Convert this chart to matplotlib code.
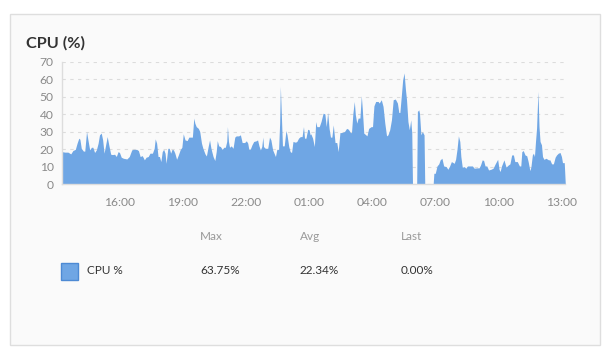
import matplotlib.pyplot as plt
import matplotlib.dates as mdates
from matplotlib.patches import Rectangle
import pandas as pd

plt.rcParams['font.family'] = ['Lato', 'DejaVu Sans']

# CPU samples (clock time, percent); the run crosses midnight
times = [
    "13:15", "13:23", "13:32", "13:40", "13:46", "13:53", "13:58", "14:03", "14:06", "14:10",
    "14:16", "14:20", "14:25", "14:29", "14:34", "14:39", "14:43", "14:48", "14:53", "14:58",
    "15:02", "15:07", "15:11", "15:15", "15:20", "15:24", "15:29", "15:34", "15:39", "15:45",
    "15:50", "15:55", "15:59", "16:04", "16:10", "16:20", "16:27", "16:34", "16:39", "16:48",
    "16:53", "16:58", "17:04", "17:10", "17:15", "17:21", "17:26", "17:33", "17:38", "17:41",
    "17:45", "17:49", "17:53", "17:57", "18:01", "18:05", "18:09", "18:12", "18:17", "18:21",
    "18:25", "18:29", "18:33", "18:37", "18:42", "18:47", "18:52", "18:57", "19:01", "19:06",
    "19:12", "19:17", "19:24", "19:27", "19:31", "19:34", "19:38", "19:44", "19:48", "19:53",
    "19:57", "20:03", "20:07", "20:12", "20:16", "20:20", "20:26", "20:31", "20:35", "20:38",
    "20:42", "20:47", "20:52", "20:57", "21:01", "21:05", "21:07", "21:10", "21:13", "21:18",
    "21:23", "21:28", "21:32", "21:39", "21:44", "21:49", "21:56", "22:01", "22:05", "22:08",
    "22:12", "22:17", "22:22", "22:29", "22:33", "22:37", "22:41", "22:45", "22:48", "22:50",
    "22:55", "23:02", "23:07", "23:11", "23:16", "23:24", "23:28", "23:33", "23:36", "23:38",
    "23:41", "23:44", "23:49", "23:54", "23:57", "00:02", "00:06", "00:10", "00:14", "00:21",
    "00:25", "00:30", "00:35", "00:40", "00:44", "00:47", "00:51", "00:56", "01:00", "01:03",
    "01:05", "01:10", "01:15", "01:19", "01:22", "01:29", "01:34", "01:40", "01:45", "01:49",
    "01:53", "01:57", "02:01", "02:05", "02:09", "02:14", "02:19", "02:23", "02:28", "02:33",
    "02:41", "02:47", "02:52", "02:58", "03:01", "03:05", "03:09", "03:12", "03:16", "03:20",
    "03:25", "03:29", "03:32", "03:36", "03:42", "03:45", "03:50", "03:57", "04:01", "04:05",
    "04:10", "04:17", "04:20", "04:26", "04:31", "04:36", "04:41", "04:45", "04:50", "04:55",
    "05:00", "05:06", "05:12", "05:16", "05:19", "05:23", "05:27", "05:31", "05:35", "05:38",
    "05:42", "05:46", "05:50", "05:53", "05:55", "06:07", "06:09", "06:13", "06:15", "06:19",
    "06:23", "06:28", "06:30", "06:54", "06:56", "07:00", "07:05", "07:10", "07:14", "07:19",
    "07:24", "07:31", "07:36", "07:41", "07:46", "07:51", "07:54", "07:58", "08:02", "08:06",
    "08:10", "08:13", "08:17", "08:23", "08:27", "08:32", "08:40", "08:46", "08:51", "08:59",
    "09:05", "09:09", "09:14", "09:18", "09:22", "09:27", "09:32", "09:39", "09:45", "09:51",
    "09:58", "10:02", "10:05", "10:09", "10:16", "10:22", "10:28", "10:33", "10:38", "10:43",
    "10:47", "10:54", "11:00", "11:04", "11:07", "11:11", "11:16", "11:21", "11:25", "11:30",
    "11:33", "11:37", "11:40", "11:43", "11:46", "11:49", "11:53", "11:56", "11:59", "12:03",
    "12:06", "12:10", "12:16", "12:23", "12:27", "12:32", "12:37", "12:42", "12:46", "12:51",
    "12:56", "13:00", "13:03", "13:08", "13:11",
]
cpu = [
    18.7, 18.4, 18.4, 17.4, 19.3, 20.0, 23.5, 26.4, 25.8, 20.6,
    19.0, 19.0, 30.2, 25.4, 19.7, 21.2, 21.2, 18.2, 19.7, 23.5,
    28.3, 29.3, 25.4, 17.8, 23.1, 27.3, 22.0, 17.2, 17.0, 17.2,
    15.9, 18.7, 18.2, 15.5, 14.9, 14.5, 15.9, 19.7, 20.0, 20.0,
    19.3, 15.9, 16.4, 14.0, 15.5, 15.9, 17.8, 17.8, 20.6, 26.0,
    23.5, 15.9, 15.9, 13.0, 18.7, 20.0, 17.8, 12.0, 20.6, 20.6,
    17.8, 20.0, 19.7, 17.8, 14.3, 16.8, 19.7, 21.2, 28.9, 25.4,
    25.0, 27.0, 27.0, 27.0, 37.9, 35.0, 33.0, 32.0, 30.2, 23.5,
    20.6, 17.4, 16.2, 21.6, 25.4, 20.6, 15.9, 13.6, 18.7, 25.0,
    22.0, 21.6, 20.0, 21.2, 21.2, 24.5, 33.0, 24.5, 21.2, 22.0,
    20.6, 27.0, 27.7, 27.7, 28.3, 23.9, 23.9, 24.9, 23.5, 20.0,
    20.0, 22.6, 24.5, 24.9, 25.4, 22.0, 19.7, 21.6, 27.0, 21.6,
    20.6, 20.6, 27.0, 25.4, 19.7, 15.9, 20.0, 20.0, 35.0, 56.0,
    38.8, 22.0, 22.0, 30.8, 28.3, 21.6, 18.7, 18.2, 24.5, 24.1,
    24.5, 26.4, 27.3, 27.3, 33.0, 26.4, 26.4, 31.5, 31.2, 28.3,
    28.9, 26.4, 21.6, 35.9, 33.0, 33.0, 35.9, 40.7, 40.3, 33.0,
    41.1, 32.0, 27.0, 27.0, 34.0, 23.9, 23.9, 18.7, 29.6, 29.6,
    30.2, 32.0, 31.5, 29.6, 29.6, 40.7, 47.4, 39.8, 35.0, 37.9,
    37.9, 50.7, 42.6, 29.3, 28.3, 27.7, 32.0, 33.0, 33.0, 44.9,
    47.4, 47.4, 46.5, 48.4, 44.6, 35.0, 27.7, 28.3, 31.2, 36.9,
    48.4, 48.8, 46.5, 41.1, 41.1, 50.3, 59.8, 63.75, 54.1, 48.4,
    35.9, 31.2, 36.9, 29.3, 0.0, 0.0, 41.7, 42.6, 40.7, 28.3,
    30.2, 28.3, 0.0, 0.0, 6.3, 6.3, 10.5, 11.7, 14.0, 14.9,
    10.5, 10.1, 8.6, 10.5, 13.0, 12.4, 12.0, 14.3, 20.0, 27.7,
    24.5, 15.9, 9.8, 10.1, 9.2, 10.5, 10.5, 10.5, 9.2, 9.4,
    9.4, 11.0, 14.0, 13.6, 10.5, 10.5, 8.2, 8.6, 9.2, 11.7,
    14.3, 8.6, 7.3, 10.5, 14.0, 9.8, 11.0, 11.7, 16.8, 16.8,
    13.0, 13.0, 10.5, 10.5, 18.7, 19.3, 16.8, 16.3, 13.0, 7.8,
    10.1, 16.8, 17.8, 15.9, 24.5, 32.0, 53.2, 33.0, 24.5, 22.6,
    15.9, 14.3, 14.9, 14.0, 14.0, 11.7, 11.7, 15.5, 16.8, 17.8,
    18.2, 15.9, 12.4, 12.4, 0.0,
]

tick_times = ["16:00", "19:00", "22:00", "01:00", "04:00", "07:00", "10:00", "13:00"]
series_name = "CPU %"
stat_names = ["Max", "Avg", "Last"]
stat_values = ["63.75%", "22.34%", "0.00%"]

fill_color = "#6fa6e4"


def to_datetimes(labels, start="2024-01-01"):
    # clock labels -> timestamps, rolling the day over when the clock wraps
    day = pd.Timestamp(start)
    out = []
    prev = None
    for t in labels:
        stamp = day + pd.Timedelta(t + ":00")
        if prev is not None and stamp < prev:
            day += pd.Timedelta(days=1)
            stamp += pd.Timedelta(days=1)
        out.append(stamp)
        prev = stamp
    return out


dates = to_datetimes(times)
ticks = to_datetimes([times[0]] + tick_times)[1:]

W, H = 605, 355
fig = plt.figure(figsize=(W / 100, H / 100), dpi=100)
fig.patch.set_facecolor("white")

# card background, kept behind the axes
fig.patches.append(Rectangle((10 / W, 10 / H), 590 / W, 331 / H, transform=fig.transFigure,
                             facecolor="#fafafa", edgecolor="#dedede", lw=1, zorder=-10))

ax = fig.add_axes([62 / W, 1 - 184.3 / H, 503.3 / W, 122.3 / H])
ax.set_zorder(5)
ax.set_facecolor("none")
ax.fill_between(dates, cpu, 0, color=fill_color, lw=0)

ax.set_ylim(0, 70)
ax.set_yticks(range(0, 80, 10))
ax.set_xlim(dates[0], dates[-1])
ax.set_xticks(ticks)
ax.xaxis.set_major_formatter(mdates.DateFormatter("%H:%M"))

ax.yaxis.grid(True, color="#dcdcdc", lw=0.8, linestyle=(0, (3, 4)))
ax.set_axisbelow(True)
for side in ["top", "right"]:
    ax.spines[side].set_visible(False)
for side in ["left", "bottom"]:
    ax.spines[side].set_color("#dddddd")
    ax.spines[side].set_linewidth(1)
ax.tick_params(length=0, labelcolor="#8a8a8a", labelsize=8.7)
ax.tick_params(axis="y", pad=6)
ax.tick_params(axis="x", pad=9)

fig.text(26 / W, 1 - 43 / H, "CPU (%)", fontsize=11.7, fontweight="bold", color="#333333", va="center")

# legend table
cols = [200, 300, 401]
for x, name, val in zip(cols, stat_names, stat_values):
    fig.text(x / W, 1 - 237 / H, name, fontsize=8.5, color="#9a9a9a", va="center")
    fig.text(x / W, 1 - 271 / H, val, fontsize=8.5, color="#333333", va="center")

fig.patches.append(Rectangle((61 / W, 1 - 280 / H), 17 / W, 17 / H, transform=fig.transFigure,
                             facecolor=fill_color, edgecolor="#4d8ad4", lw=1))
fig.text(87 / W, 1 - 271 / H, series_name, fontsize=8.5, color="#333333", va="center")

fig.savefig("out.png", dpi=100, facecolor=fig.get_facecolor())
